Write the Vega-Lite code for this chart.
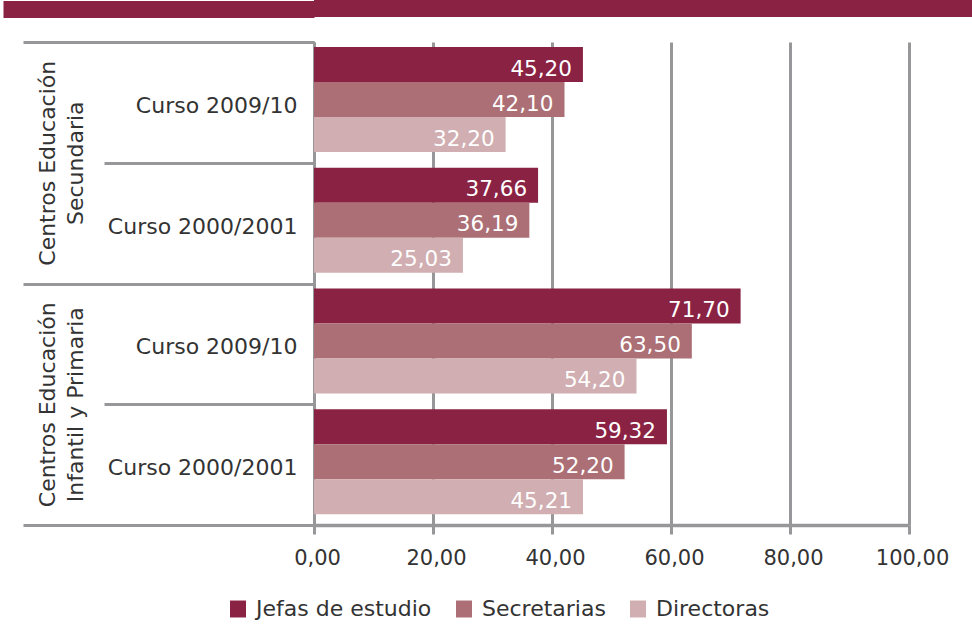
{
  "$schema": "https://vega.github.io/schema/vega-lite/v6.json",
  "background": "white",
  "padding": {"left": -6, "top": 0, "right": 0, "bottom": 20},
  "spacing": 13,
  "config": {
    "view": {"stroke": null},
    "font": "DejaVu Sans",
    "locale": {"number": {"decimal": ",", "thousands": ".", "grouping": [3], "currency": ["", " €"]}}
  },
  "datasets": {
    "datos": [
      {"grupo": "Centros Educación Secundaria", "fila": "Secundaria|Curso 2009/10", "cargo": "Jefas de estudio", "valor": 45.20},
      {"grupo": "Centros Educación Secundaria", "fila": "Secundaria|Curso 2009/10", "cargo": "Secretarias", "valor": 42.10},
      {"grupo": "Centros Educación Secundaria", "fila": "Secundaria|Curso 2009/10", "cargo": "Directoras", "valor": 32.20},
      {"grupo": "Centros Educación Secundaria", "fila": "Secundaria|Curso 2000/2001", "cargo": "Jefas de estudio", "valor": 37.66},
      {"grupo": "Centros Educación Secundaria", "fila": "Secundaria|Curso 2000/2001", "cargo": "Secretarias", "valor": 36.19},
      {"grupo": "Centros Educación Secundaria", "fila": "Secundaria|Curso 2000/2001", "cargo": "Directoras", "valor": 25.03},
      {"grupo": "Centros Educación Infantil y Primaria", "fila": "Primaria|Curso 2009/10", "cargo": "Jefas de estudio", "valor": 71.70},
      {"grupo": "Centros Educación Infantil y Primaria", "fila": "Primaria|Curso 2009/10", "cargo": "Secretarias", "valor": 63.50},
      {"grupo": "Centros Educación Infantil y Primaria", "fila": "Primaria|Curso 2009/10", "cargo": "Directoras", "valor": 54.20},
      {"grupo": "Centros Educación Infantil y Primaria", "fila": "Primaria|Curso 2000/2001", "cargo": "Jefas de estudio", "valor": 59.32},
      {"grupo": "Centros Educación Infantil y Primaria", "fila": "Primaria|Curso 2000/2001", "cargo": "Secretarias", "valor": 52.20},
      {"grupo": "Centros Educación Infantil y Primaria", "fila": "Primaria|Curso 2000/2001", "cargo": "Directoras", "valor": 45.21}
    ]
  },
  "vconcat": [
    {
      "width": 659,
      "height": 17,
      "data": {"values": [{"k": "banda", "t": ""}]},
      "mark": {"type": "text"},
      "encoding": {
        "text": {"field": "t", "type": "nominal"},
        "y": {"field": "k", "type": "nominal", "axis": {"title": null, "labels": false, "domain": false, "ticks": true, "tickSize": 311, "tickWidth": 17, "tickColor": "#8a2244"}}
      },
      "view": {"fill": "#8a2244", "stroke": null}
    },
    {
      "width": 595,
      "height": 483,
      "data": {"name": "datos"},
      "layer": [
        {
          "layer": [
            {
              "mark": {"type": "bar"},
              "encoding": {
                "x": {
                  "field": "valor", "type": "quantitative",
                  "scale": {"domain": [0, 100], "nice": false},
                  "axis": {
                    "title": null, "values": [0, 20, 40, 60, 80, 100], "format": ".2f",
                    "grid": true, "gridColor": "#97979a", "gridWidth": 3,
                    "domain": true, "domainColor": "#97979a", "domainWidth": 3.5,
                    "ticks": true, "tickSize": 9, "tickWidth": 3, "tickColor": "#97979a",
                    "labelFontSize": 21, "labelColor": "#333333", "labelPadding": 13, "labelOffset": 3,
                    "labelFlush": false, "labelOverlap": false
                  }
                },
                "y": {
                  "field": "fila", "type": "nominal",
                  "scale": {"domain": ["Secundaria|Curso 2009/10", "Secundaria|Curso 2000/2001", "Primaria|Curso 2009/10", "Primaria|Curso 2000/2001"], "paddingInner": 0, "paddingOuter": 0},
                  "axis": {
                    "orient": "left",
                    "title": null, "domain": true, "domainColor": "#97979a", "domainWidth": 3,
                    "ticks": true, "tickBand": "extent", "tickSize": 210, "tickWidth": 3, "tickColor": "#97979a",
                    "labelFontSize": 22, "labelColor": "#333333", "labelPadding": -193, "labelOffset": 3,
                    "labelLimit": 300, "labelOverlap": false,
                    "labelExpr": "isValid(datum.value) ? split(datum.value, '|')[1] : ''"
                  }
                },
                "yOffset": {
                  "field": "cargo", "type": "nominal",
                  "scale": {"domain": ["Jefas de estudio", "Secretarias", "Directoras"], "paddingInner": 0, "paddingOuter": 0.2257, "align": 0.32}
                },
                "color": {
                  "field": "cargo", "type": "nominal",
                  "scale": {"domain": ["Jefas de estudio", "Secretarias", "Directoras"], "range": ["#8a2244", "#ab6f75", "#d0aeb1"]},
                  "legend": {
                    "orient": "none", "legendX": -87, "legendY": 598, "direction": "horizontal", "title": null,
                    "symbolType": "M-1,-1.06H1V1.06H-1Z", "symbolSize": 256, "symbolStrokeWidth": 0,
                    "labelFontSize": 22, "labelColor": "#333333", "labelOffset": 7, "columnPadding": 21,
                    "padding": 0, "labelLimit": 300
                  }
                }
              }
            },
            {
              "mark": {"type": "text", "align": "right", "baseline": "middle", "dx": -11, "dy": 5, "color": "white", "fontSize": 21.5},
              "encoding": {
                "x": {"field": "valor", "type": "quantitative"},
                "y": {"field": "fila", "type": "nominal"},
                "yOffset": {"field": "cargo", "type": "nominal"},
                "text": {"field": "valor", "type": "quantitative", "format": ".2f"}
              }
            }
          ]
        },
        {
          "mark": {"type": "bar", "opacity": 0},
          "encoding": {
            "x": {"field": "valor", "type": "quantitative", "stack": null},
            "y": {
              "field": "grupo", "type": "nominal",
              "scale": {"domain": ["Centros Educación Secundaria", "Centros Educación Infantil y Primaria"], "paddingInner": 0, "paddingOuter": 0},
              "axis": {
                "orient": "left", "title": null,
                "domain": false, "ticks": true, "tickBand": "extent", "tickSize": 291, "tickWidth": 3, "tickColor": "#97979a",
                "labelAngle": -90, "labelAlign": "center", "labelBaseline": "middle", "labelPadding": -24,
                "labelFontSize": 22, "labelColor": "#333333", "labelLineHeight": 28, "labelLimit": 400, "labelOverlap": false,
                "labelExpr": "isValid(datum.value) ? ['Centros Educación', replace(datum.value, 'Centros Educación ', '')] : ''"
              }
            }
          }
        }
      ],
      "resolve": {"scale": {"y": "independent"}, "axis": {"y": "independent"}}
    }
  ]
}
